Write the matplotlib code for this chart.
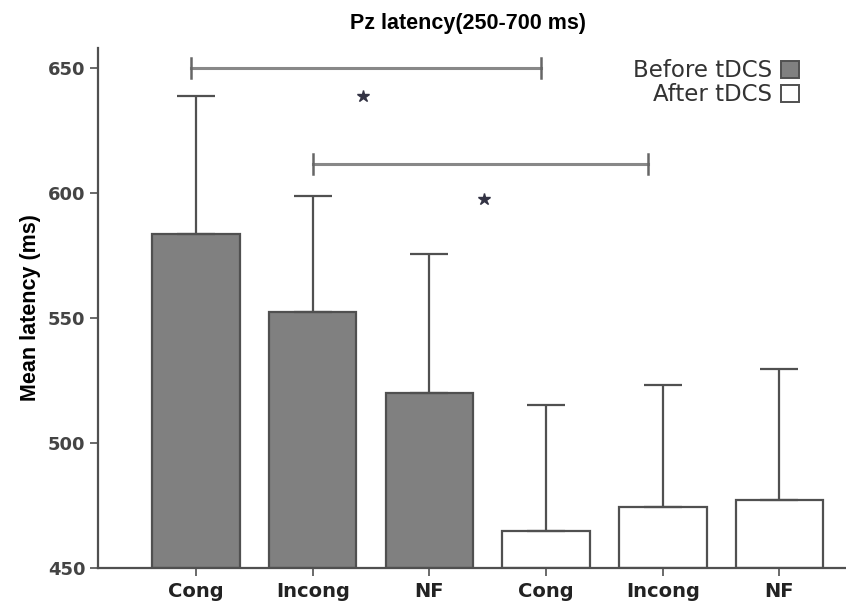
import numpy as np
import matplotlib
matplotlib.use("Agg")
import matplotlib.pyplot as plt
from matplotlib.patches import Patch

# values
labels = ["Cong", "Incong", "NF", "Cong", "Incong", "NF"]
means = [583.7, 552.6, 520.1, 464.8, 474.4, 477.3]
upper = [638.8, 598.7, 575.5, 515.3, 523.3, 529.8]
groups = ["Before tDCS", "Before tDCS", "Before tDCS", "After tDCS", "After tDCS", "After tDCS"]
group_colors = {"Before tDCS": "#808080", "After tDCS": "#ffffff"}

# significance brackets: (x_left, x_right, y), stars: (x, y)
brackets = [(-0.04, 2.96, 650.0), (1.0, 3.87, 611.5)]
stars = [(1.43, 639.0), (2.47, 597.5)]

edge = "#505050"
narrow = ["Liberation Sans Narrow", "Liberation Sans", "DejaVu Sans"]
fig = plt.figure(figsize=(8.46, 6.01), dpi=100)
ax = fig.add_axes([0.1158, 0.0549, 0.8842, 0.8651])

x = np.arange(len(means))
err = np.array(upper) - np.array(means)
ax.bar(x, np.array(means) - 450, bottom=450, width=0.75,
       color=[group_colors[g] for g in groups], edgecolor=edge, linewidth=1.6, zorder=2)
ax.errorbar(x, means, yerr=[np.zeros_like(err), err], fmt="none",
            ecolor=edge, elinewidth=1.6, capsize=14, capthick=1.6, zorder=3)

for x0, x1, y in brackets:
    ax.plot([x0, x1], [y, y], color="#888888", lw=2.2, zorder=1)
    for xe in (x0, x1):
        ax.plot([xe, xe], [y - 4, y + 4], color="#666666", lw=1.8, zorder=1)
for sx, sy in stars:
    ax.plot(sx, sy, marker="*", ms=9, color="#333344", linestyle="none")

ax.set_xlim(-0.84, 5.57)
ax.set_ylim(450, 658)
ax.set_yticks([450, 500, 550, 600, 650])
ax.set_xticks(x)
ax.set_xticklabels(labels, fontweight="bold", fontsize=14, color="#222222")
for t in ax.get_yticklabels():
    t.set_fontweight("bold")
    t.set_fontsize(13)
    t.set_color("#444444")
ax.tick_params(axis="both", direction="out", length=6, width=1.2, color=edge)
ax.tick_params(axis="x", pad=4)
ax.tick_params(axis="y", pad=3)
ax.spines["top"].set_visible(False)
ax.spines["right"].set_visible(False)
for s in ("left", "bottom"):
    ax.spines[s].set_color(edge)
    ax.spines[s].set_linewidth(1.6)

ax.set_ylabel("Mean latency (ms)", fontweight="bold", fontsize=15.5,
              family=narrow, labelpad=5)
fig.text(0.553, 0.961, "Pz latency(250-700 ms)", ha="center", va="center",
         fontweight="bold", fontsize=15.5, family=narrow)

handles = [Patch(facecolor=group_colors[g], edgecolor=edge, linewidth=1.4)
           for g in ["Before tDCS", "After tDCS"]]
leg = ax.legend(handles, ["Before tDCS", "After tDCS"], loc="upper right",
                bbox_to_anchor=(0.965, 1.018), frameon=False, markerfirst=False,
                fontsize=16.5, handlelength=0.8, handleheight=0.8,
                handletextpad=0.4, labelspacing=0.05)
for t in leg.get_texts():
    t.set_ha("right")
    t.set_color("#333333")

fig.savefig("out.png", dpi=100)
